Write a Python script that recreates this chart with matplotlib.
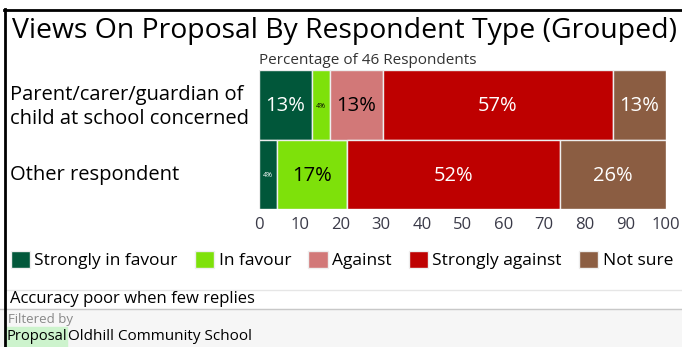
import numpy as np
import matplotlib.pyplot as plt
from matplotlib.patches import Rectangle
from matplotlib.lines import Line2D

plt.rcParams['font.family'] = ['Open Sans', 'DejaVu Sans']

# ответы по группам (количество респондентов)
groups = ['Parent/carer/guardian of\nchild at school concerned', 'Other respondent']
views = ['Strongly in favour', 'In favour', 'Against', 'Strongly against', 'Not sure']
colors = ['#01573a', '#7ee10a', '#d27878', '#be0000', '#8b5d42']
text_colors = ['white', 'black', 'black', 'white', 'white']
counts = [[3, 1, 3, 13, 3],
          [1, 4, 0, 12, 6]]
total = 46

counts = np.array(counts, dtype=float)
pct = counts / counts.sum(axis=1, keepdims=True) * 100

W, H = 682, 347
fig = plt.figure(figsize=(W / 100, H / 100), dpi=100)

def fx(px):
    return px / W

def fy(py):
    return 1 - py / H

# серая полоса фильтра внизу
fig.patches.append(Rectangle((0, 0), 1, fy(309), transform=fig.transFigure,
                             color='#f6f6f6', zorder=0))
fig.patches.append(Rectangle((fx(6), 0), fx(61), fy(327), transform=fig.transFigure,
                             color='#cdf3cd', zorder=1))
fig.lines.append(Line2D([fx(6), 1], [fy(290), fy(290)], transform=fig.transFigure,
                        color='#e6e6e6', lw=1))
fig.lines.append(Line2D([0, 1], [fy(308.5), fy(308.5)], transform=fig.transFigure,
                        color='#c8c8c8', lw=1))
# рамка
fig.lines.append(Line2D([fx(5), fx(5)], [0, fy(9)], transform=fig.transFigure,
                        color='black', lw=2))
fig.lines.append(Line2D([fx(4), 1], [fy(10), fy(10)], transform=fig.transFigure,
                        color='black', lw=2))

ax = fig.add_axes([fx(259), fy(209), fx(666 - 259), (209 - 70) / H])

y = np.arange(len(groups))
left = np.zeros(len(groups))
bars = []
for i, v in enumerate(views):
    b = ax.barh(y, pct[:, i], left=left, height=1.0, color=colors[i],
                edgecolor='#eeeeee', linewidth=1, label=v)
    bars.append(b)
    for j in range(len(groups)):
        w = pct[j, i]
        if w <= 0:
            continue
        size = 14.5 if w > 8 else 5
        ax.text(left[j] + w / 2, y[j] + 0.02, '%d%%' % round(w), ha='center',
                va='center', color=text_colors[i], fontsize=size)
    left += pct[:, i]

ax.set_xlim(0, 100)
ax.set_ylim(1.5, -0.5)
ax.set_yticks([])
ax.set_xticks(range(0, 101, 10))
ax.tick_params(axis='x', length=0, labelsize=12, labelcolor='#3a3a48', pad=6)
for s in ax.spines.values():
    s.set_visible(False)

fig.text(fx(10), fy(107), groups[0], ha='left', va='center', fontsize=14.5,
         linespacing=1.25)
fig.text(fx(10), fy(175), groups[1], ha='left', va='center', fontsize=14.5)

fig.text(fx(12), fy(31), 'Views On Proposal By Respondent Type (Grouped)',
         ha='left', va='center', fontsize=20.4)
fig.text(fx(368), fy(60), 'Percentage of %d Respondents' % total,
         ha='center', va='center', fontsize=11, color='#333333')

fig.legend(handles=bars, labels=views, loc='center left',
           bbox_to_anchor=(fx(11), fy(260)), ncol=5, frameon=False,
           fontsize=12.5, handlelength=1.1, handleheight=1.1,
           handletextpad=0.25, columnspacing=1.0, borderpad=0, borderaxespad=0)

fig.text(fx(10), fy(299), 'Accuracy poor when few replies', ha='left',
         va='center', fontsize=12)
fig.text(fx(8), fy(319), 'Filtered by', ha='left', va='center', fontsize=9.5,
         color='#888888')
fig.text(fx(7), fy(337), 'Proposal', ha='left', va='center', fontsize=10.6)
fig.text(fx(68), fy(337), 'Oldhill Community School', ha='left', va='center',
         fontsize=11)

fig.savefig('out.png', dpi=100)
